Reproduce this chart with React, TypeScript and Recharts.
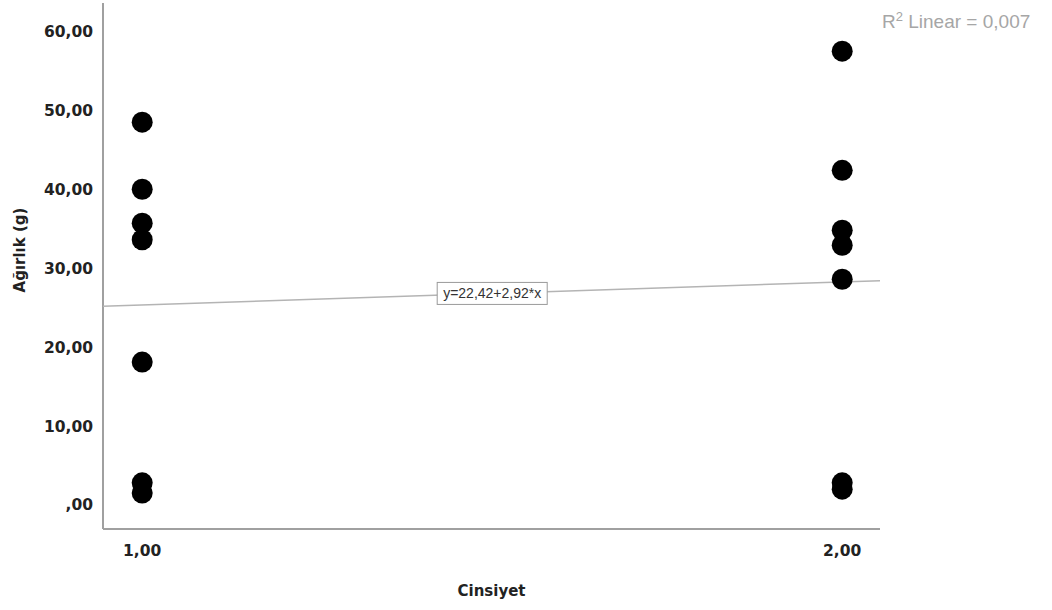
import {
  Label,
  ReferenceDot,
  Scatter,
  ScatterChart,
  XAxis,
  YAxis
} from "recharts";

const group1 = [48.5, 40.0, 35.7, 33.6, 18.1, 2.8, 1.5];
const group2 = [57.5, 42.4, 34.8, 32.9, 28.6, 2.8, 2.0];
const xTicks = [1, 2];
const yTicks = [0, 10, 20, 30, 40, 50, 60];
const xDomain: [number, number] = [0.944, 2.054];
const yDomain: [number, number] = [-3.05, 63.6];
const intercept = 22.42;
const slope = 2.92;
const fitLabel = "y=22,42+2,92*x";
const r2Value = "0,007";

const points = [
  ...group1.map((v) => ({ x: 1, y: v })),
  ...group2.map((v) => ({ x: 2, y: v }))
];
const fitLine = xDomain.map((x) => ({ x, y: intercept + slope * x }));

const fmt = (v: number) => {
  const s = v.toFixed(2).replace(".", ",");
  return s.startsWith("0,") ? s.slice(1) : s;
};

const tickStyle = { fontFamily: "DejaVu Sans", fontSize: 15.5, fontWeight: 700, fill: "#222" };
const titleStyle = { fontFamily: "DejaVu Sans", fontSize: 15, fontWeight: 700, fill: "#222" };

function FitBox(props: { cx?: number; cy?: number }) {
  const { cx = 0, cy = 0 } = props;
  return (
    <g>
      <rect x={cx - 55} y={cy - 11} width={110} height={22} fill="#fff" stroke="#9a9a9a" />
      <text
        x={cx}
        y={cy + 5}
        textAnchor="middle"
        fontFamily="Liberation Sans, Arial"
        fontSize={14}
        fill="#333"
      >
        {fitLabel}
      </text>
    </g>
  );
}

export default function App() {
  return (
    <div style={{ position: "absolute", left: 0, top: 0, width: 1052, height: 610, background: "#fff" }}>
      <ScatterChart width={1052} height={610} margin={{ top: 3, right: 172, bottom: 0, left: 0 }}>
        <XAxis
          type="number"
          dataKey="x"
          domain={xDomain}
          ticks={xTicks}
          tickFormatter={fmt}
          allowDataOverflow
          height={81}
          tickLine={false}
          tickSize={14}
          stroke="#a0a0a0"
          strokeWidth={2}
          tick={tickStyle}
        >
          <Label value="Cinsiyet" position="insideBottom" offset={14} style={titleStyle} />
        </XAxis>
        <YAxis
          type="number"
          dataKey="y"
          domain={yDomain}
          ticks={yTicks}
          tickFormatter={fmt}
          allowDataOverflow
          width={103}
          tickLine={false}
          tickSize={8}
          stroke="#a0a0a0"
          strokeWidth={2}
          tick={tickStyle}
        >
          <Label
            value="Ağırlık (g)"
            angle={-90}
            position="insideLeft"
            offset={20}
            dy={-16}
            style={{ ...titleStyle, textAnchor: "middle" }}
          />
        </YAxis>
        <Scatter
          data={fitLine}
          line={{ stroke: "#b4b4b4", strokeWidth: 1.5 }}
          shape={() => <g />}
          isAnimationActive={false}
        />
        <Scatter
          data={points}
          fill="#000"
          shape={(p: any) => <circle cx={p.cx} cy={p.cy} r={10.5} fill="#000" />}
          isAnimationActive={false}
        />
        <ReferenceDot x={1.5} y={intercept + slope * 1.5} shape={(p: any) => <FitBox cx={p.cx} cy={p.cy} />} />
      </ScatterChart>
      <div
        style={{
          position: "absolute",
          left: 882,
          top: 9,
          fontFamily: "Liberation Sans, Arial",
          fontSize: 19,
          color: "#a6a6a6",
          whiteSpace: "nowrap"
        }}
      >
        R<sup style={{ fontSize: 13 }}>2</sup> Linear = {r2Value}
      </div>
    </div>
  );
}
